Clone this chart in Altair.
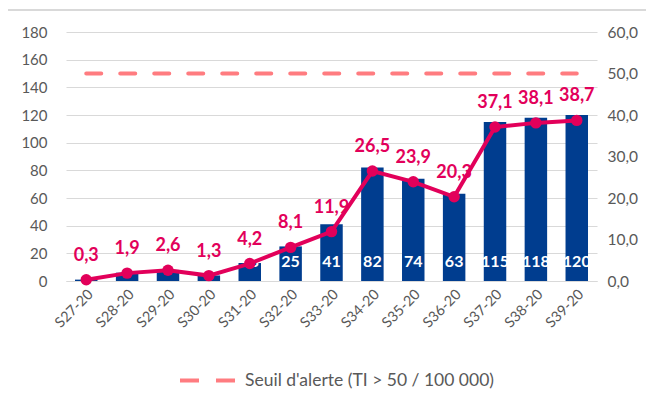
import altair as alt
import pandas as pd

weeks = ["S27-20", "S28-20", "S29-20", "S30-20", "S31-20", "S32-20", "S33-20",
         "S34-20", "S35-20", "S36-20", "S37-20", "S38-20", "S39-20"]
cases = [1, 6, 8, 4, 13, 25, 41, 82, 74, 63, 115, 118, 120]
rate = [0.3, 1.9, 2.6, 1.3, 4.2, 8.1, 11.9, 26.5, 23.9, 20.3, 37.1, 38.1, 38.7]
threshold = [50] * len(weeks)
threshold_name = "Seuil d'alerte (TI > 50 / 100 000)"

df = pd.DataFrame({"week": weeks, "cases": cases, "rate": rate,
                   "thr": threshold, "serie": [threshold_name] * len(weeks)})

FONT = "Lato"
GREY = "#595959"
BLUE = "#003D8F"
PINK = "#E2005A"
SALMON = "#FF7C80"

x = alt.X("week:N", sort=weeks, title=None,
          scale=alt.Scale(paddingInner=0.45, paddingOuter=0.22),
          axis=alt.Axis(labelAngle=-45, labelAlign="right", labelBaseline="top",
                        labelFontSize=14.5, labelColor=GREY, labelFont=FONT,
                        ticks=False, domainColor="#D9D9D9", labelPadding=6))

lscale = alt.Scale(domain=[0, 180], nice=False)
laxis = alt.Axis(values=list(range(0, 181, 20)), domain=False, ticks=False,
                 grid=True, gridColor="#D9D9D9", labelColor=GREY, labelFontSize=15,
                 labelFont=FONT, labelPadding=19, labelOverlap=False)

bars = alt.Chart(df).mark_bar(color=BLUE).encode(
    x=x, y=alt.Y("cases:Q", title=None, scale=lscale, axis=laxis))
bar_labels = alt.Chart(df).transform_filter("datum.cases >= 10").transform_calculate(
    base="0").mark_text(
    color="white", fontWeight="bold", fontSize=16, font=FONT,
    baseline="middle", dy=-19).encode(
    x=x, y=alt.Y("base:Q", scale=lscale, title=None, axis=laxis),
    text=alt.Text("cases:Q"))
left = alt.layer(bars, bar_labels)

rscale = alt.Scale(domain=[0, 60], nice=False)
raxis = alt.Axis(orient="right", values=list(range(0, 61, 10)), domain=False,
                 ticks=False, grid=False, labelColor=GREY, labelFontSize=15.5,
                 labelFont=FONT, labelPadding=10, labelOverlap=False,
                 labelExpr="replace(format(datum.value, '.1f'), '.', ',')")

def yr(field):
    return alt.Y(field, title=None, scale=rscale, axis=raxis)

thr_line = alt.Chart(df).mark_line(strokeWidth=4, strokeDash=[15, 19], strokeCap="round").encode(
    x=x, y=yr("thr:Q"),
    color=alt.Color("serie:N", scale=alt.Scale(range=[SALMON]),
                    legend=alt.Legend(title=None, orient="none", legendX=112, legendY=319,
                                      symbolType="stroke", symbolSize=3025,
                                      symbolStrokeWidth=4, symbolDash=[19, 17],
                                      labelFontSize=17.5, labelColor=GREY, labelFont=FONT,
                                      labelLimit=400, labelOffset=8)))
line = alt.Chart(df).mark_line(color=PINK, strokeWidth=4).encode(x=x, y=yr("rate:Q"))
points = alt.Chart(df).mark_point(color=PINK, filled=True, size=130, opacity=1).encode(
    x=x, y=yr("rate:Q"))
rate_labels = alt.Chart(df).transform_calculate(
    lab="replace(format(datum.rate, '.1f'), '.', ',')"
).mark_text(color=PINK, fontWeight="bold", fontSize=18, font=FONT,
            baseline="middle", dy=-24).encode(
    x=x, y=yr("rate:Q"), text="lab:N")
frame = alt.Chart(df).mark_rect(fill="transparent", stroke="#D9D9D9", strokeWidth=1.5).encode(
    x=alt.value(-62), x2=alt.value(600), y=alt.value(-22), y2=alt.value(390))
right = alt.layer(line, thr_line, points, rate_labels, frame)

chart = alt.layer(left, right).resolve_scale(y="independent").properties(
    width=531, height=249,
    background="white",
    autosize=alt.AutoSizeParams(type="none"),
    padding={"left": 58, "top": 24, "right": 49, "bottom": 117},
).configure_view(strokeWidth=0)

chart.save("out.html", embed_options={"renderer": "svg", "actions": False})
